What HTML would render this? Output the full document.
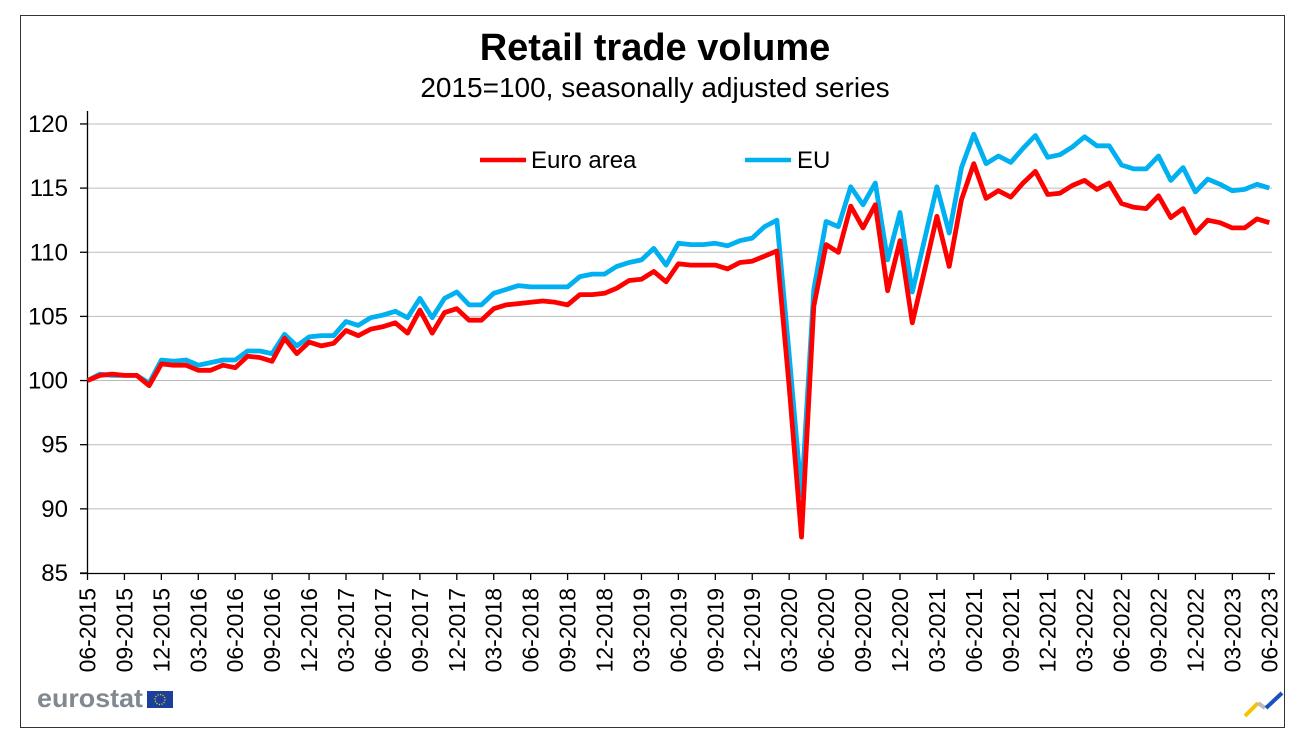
<!DOCTYPE html>
<html><head><meta charset="utf-8"><style>
html,body{margin:0;padding:0;background:#fff;}
svg{display:block;font-family:"Liberation Sans",Arial,sans-serif;}
</style></head><body>
<svg id="s" width="1302" height="744" viewBox="0 0 1302 744" xmlns="http://www.w3.org/2000/svg">
<rect x="20.5" y="15.5" width="1264" height="712" fill="#fff" stroke="#333" stroke-width="1"/>
<text x="655" y="60" text-anchor="middle" font-size="38" font-weight="bold">Retail trade volume</text>
<text x="655" y="97" text-anchor="middle" font-size="28">2015=100, seasonally adjusted series</text>
<g id="grid" stroke="#bbb" stroke-width="1"></g>
<g id="yl" font-size="24" text-anchor="end"></g>
<g id="xl" font-size="23"></g>
<line x1="87.5" y1="111" x2="87.5" y2="573" stroke="#000" stroke-width="1.3"/>
<line x1="80" y1="573.5" x2="1275" y2="573.5" stroke="#000" stroke-width="1.3"/>
<polyline id="eu" fill="none" stroke="#00b0f0" stroke-width="4.8" stroke-linejoin="round"/>
<polyline id="ea" fill="none" stroke="#ff0000" stroke-width="4.8" stroke-linejoin="round"/>
<line x1="480" y1="160" x2="526" y2="160" stroke="#ff0000" stroke-width="4.5"/>
<text x="531" y="168" font-size="24">Euro area</text>
<line x1="745" y1="160" x2="791" y2="160" stroke="#00b0f0" stroke-width="4.5"/>
<text x="797" y="168" font-size="24">EU</text>
<text x="37" y="707" font-size="26" font-weight="bold" fill="#808890" textLength="106" lengthAdjust="spacingAndGlyphs">eurostat</text>
<rect x="147" y="691" width="26" height="17" fill="#1a3f9c"/>
<circle cx="160" cy="699.5" r="5" fill="none" stroke="#f5d000" stroke-width="1.3" stroke-dasharray="1.2 1.4"/>
<line x1="1245" y1="716" x2="1258" y2="703" stroke="#f5c400" stroke-width="4"/>
<line x1="1258" y1="703" x2="1265" y2="708" stroke="#bbb" stroke-width="4"/>
<line x1="1266" y1="708" x2="1282" y2="693" stroke="#1a4fc0" stroke-width="4"/>
</svg>
<script>
var NS="http://www.w3.org/2000/svg";
function Y(v){return 573-(v-85)*12.83;}
function X(i){return 87.5+i*12.31;}
var g=document.getElementById('grid'),yl=document.getElementById('yl'),xl=document.getElementById('xl');
for(var v=85;v<=120;v+=5){var y=Y(v);
 if(v>85){var l=document.createElementNS(NS,'line');l.setAttribute('x1',88);l.setAttribute('x2',1272);l.setAttribute('y1',y);l.setAttribute('y2',y);g.appendChild(l);}
 var t=document.createElementNS(NS,'line');t.setAttribute('x1',80);t.setAttribute('x2',88);t.setAttribute('y1',y);t.setAttribute('y2',y);t.setAttribute('stroke','#000');t.setAttribute('stroke-width','1.3');g.appendChild(t);
 var tx=document.createElementNS(NS,'text');tx.setAttribute('x',68);tx.setAttribute('y',y+8);tx.textContent=v;yl.appendChild(tx);}
var mm=['06','09','12','03'];
for(var k=0;k<=32;k++){var x=X(k*3);var yr=2015+Math.floor((k+1)/4);var lab=mm[k%4]+'-'+yr;
 var t=document.createElementNS(NS,'line');t.setAttribute('x1',x);t.setAttribute('x2',x);t.setAttribute('y1',573);t.setAttribute('y2',580);t.setAttribute('stroke','#000');t.setAttribute('stroke-width','1.3');g.appendChild(t);
 var tx=document.createElementNS(NS,'text');tx.setAttribute('transform','translate('+(x+8)+',588) rotate(-90)');tx.setAttribute('text-anchor','end');tx.textContent=lab;xl.appendChild(tx);}
var ea=[100.0,100.4,100.5,100.4,100.4,99.6,101.3,101.2,101.2,100.8,100.8,101.2,101.0,101.9,101.8,101.5,103.3,102.1,103.0,102.7,102.9,103.9,103.5,104.0,104.2,104.5,103.7,105.5,103.7,105.3,105.6,104.7,104.7,105.6,105.9,106.0,106.1,106.2,106.1,105.9,106.7,106.7,106.8,107.2,107.8,107.9,108.5,107.7,109.1,109.0,109.0,109.0,108.7,109.2,109.3,109.7,110.1,99.5,87.8,105.8,110.6,110.0,113.6,111.9,113.7,107.0,110.9,104.5,108.6,112.8,108.9,114.1,116.9,114.2,114.8,114.3,115.4,116.3,114.5,114.6,115.2,115.6,114.9,115.4,113.8,113.5,113.4,114.4,112.7,113.4,111.5,112.5,112.3,111.9,111.9,112.6,112.3];
var eu=[100.0,100.5,100.4,100.4,100.4,99.8,101.6,101.5,101.6,101.2,101.4,101.6,101.6,102.3,102.3,102.1,103.6,102.7,103.4,103.5,103.5,104.6,104.3,104.9,105.1,105.4,104.9,106.4,104.9,106.4,106.9,105.9,105.9,106.8,107.1,107.4,107.3,107.3,107.3,107.3,108.1,108.3,108.3,108.9,109.2,109.4,110.3,109.0,110.7,110.6,110.6,110.7,110.5,110.9,111.1,112.0,112.5,102,91.0,107.1,112.4,112.0,115.1,113.7,115.4,109.4,113.1,106.9,111.0,115.1,111.5,116.6,119.2,116.9,117.5,117.0,118.1,119.1,117.4,117.6,118.2,119.0,118.3,118.3,116.8,116.5,116.5,117.5,115.6,116.6,114.7,115.7,115.3,114.8,114.9,115.3,115.0];
function pts(a){return a.map(function(v,i){return X(i).toFixed(1)+','+Y(v).toFixed(1);}).join(' ');}
document.getElementById('ea').setAttribute('points',pts(ea));
document.getElementById('eu').setAttribute('points',pts(eu));
</script>
</body></html>
